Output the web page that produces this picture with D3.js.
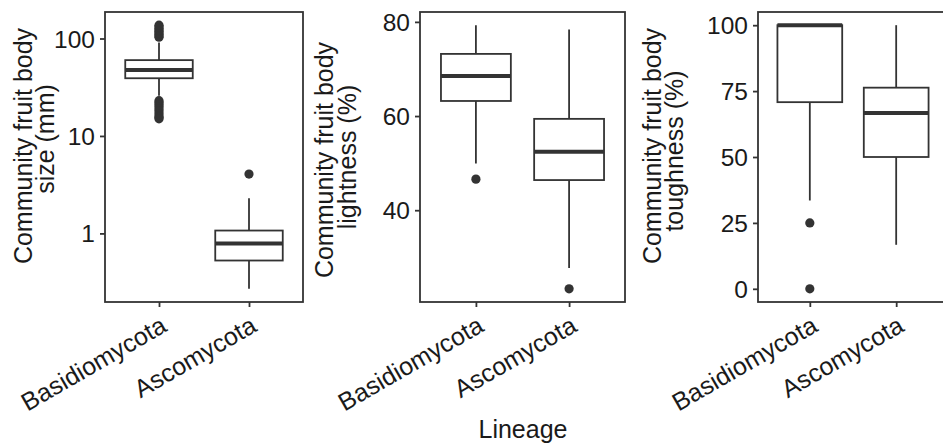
<!DOCTYPE html>
<html><head><meta charset="utf-8">
<script src="https://cdn.jsdelivr.net/npm/d3@7"></script>
<style>body{margin:0;background:#fff}svg{display:block}</style>
</head><body><svg id="chart" width="943" height="445"></svg>
<script>
// ---- data ----
const categories = ["Basidiomycota", "Ascomycota"];

// Panel 1: fruit body size (mm), log scale
const sizeLower = [25.8, 0.27];
const sizeQ1 = [39.1, 0.527];
const sizeMedian = [47.4, 0.79];
const sizeQ3 = [60, 1.07];
const sizeUpper = [91, 2.3];
const sizeOutliers = [[103, 106, 110, 114, 118, 122, 127, 132, 137, 23, 22, 21, 20, 19, 18, 17, 16, 15.5, 15], [4.06]];
const sizeTicks = [1, 10, 100];

// Panel 2: lightness (%)
const lightLower = [49.9, 27.7];
const lightQ1 = [63.2, 46.4];
const lightMedian = [68.5, 52.4];
const lightQ3 = [73.2, 59.4];
const lightUpper = [79.3, 78.4];
const lightOutliers = [[46.6], [23.3]];
const lightTicks = [40, 60, 80];

// Panel 3: toughness (%)
const toughLower = [33.5, 16.7];
const toughQ1 = [70.8, 50];
const toughMedian = [100, 66.7];
const toughQ3 = [100, 76.3];
const toughUpper = [100, 100];
const toughOutliers = [[25, 0], []];
const toughTicks = [0, 25, 50, 75, 100];

const yTitles = [
  ["Community fruit body", "size (mm)"],
  ["Community fruit body", "lightness (%)"],
  ["Community fruit body", "toughness (%)"]
];
const xTitle = "Lineage";

// ---- layout ----
const FONT = "'Liberation Sans', Arial, Helvetica, sans-serif";
const INK = "#333333";
const TXT = "#1a1a1a";
const pTop = 12, pBottom = 302;

const panels = [
  {left: 105, right: 303, log: true, lower: sizeLower, q1: sizeQ1, med: sizeMedian, q3: sizeQ3, upper: sizeUpper, out: sizeOutliers, ticks: sizeTicks,
   title: yTitles[0], tx: [32, 54], ty: [146, 139]},
  {left: 420, right: 625, log: false, lower: lightLower, q1: lightQ1, med: lightMedian, q3: lightQ3, upper: lightUpper, out: lightOutliers, ticks: lightTicks,
   title: yTitles[1], tx: [333, 356], ty: [160, 157]},
  {left: 758, right: 948, log: false, lower: toughLower, q1: toughQ1, med: toughMedian, q3: toughQ3, upper: toughUpper, out: toughOutliers, ticks: toughTicks,
   title: yTitles[2], tx: [661, 683], ty: [146, 151]}
];

const svg = d3.select("#chart");
svg.append("rect").attr("width", 943).attr("height", 445).attr("fill", "#fff");

panels.forEach(p => {
  const all = [].concat(p.lower, p.upper, p.out.flat());
  let y;
  if (p.log) {
    const lmin = Math.log10(d3.min(all)), lmax = Math.log10(d3.max(all));
    const e = (lmax - lmin) * 0.05;
    y = d3.scaleLog().domain([Math.pow(10, lmin - e), Math.pow(10, lmax + e)]).range([pBottom, pTop]);
  } else {
    const mn = d3.min(all), mx = d3.max(all), e = (mx - mn) * 0.05;
    y = d3.scaleLinear().domain([mn - e, mx + e]).range([pBottom, pTop]);
  }
  const x = d3.scalePoint().domain(categories).range([p.left, p.right]).padding(0.6);
  const bw = x.step() * 0.75;

  const g = svg.append("g");
  categories.forEach((c, i) => {
    const cx = x(c);
    // whiskers
    g.append("line").attr("x1", cx).attr("x2", cx).attr("y1", y(p.upper[i])).attr("y2", y(p.q3[i]))
      .attr("stroke", INK).attr("stroke-width", 1.8);
    g.append("line").attr("x1", cx).attr("x2", cx).attr("y1", y(p.q1[i])).attr("y2", y(p.lower[i]))
      .attr("stroke", INK).attr("stroke-width", 1.8);
    // box
    g.append("rect").attr("x", cx - bw / 2).attr("width", bw)
      .attr("y", y(p.q3[i])).attr("height", y(p.q1[i]) - y(p.q3[i]))
      .attr("fill", "#fff").attr("stroke", INK).attr("stroke-width", 1.8);
    // median
    g.append("line").attr("x1", cx - bw / 2).attr("x2", cx + bw / 2)
      .attr("y1", y(p.med[i])).attr("y2", y(p.med[i]))
      .attr("stroke", INK).attr("stroke-width", 4);
    // outliers
    g.selectAll(null).data(p.out[i]).enter().append("circle")
      .attr("cx", cx).attr("cy", d => y(d)).attr("r", 4.6).attr("fill", INK);
  });

  // panel border
  svg.append("rect").attr("x", p.left).attr("y", pTop)
    .attr("width", p.right - p.left).attr("height", pBottom - pTop)
    .attr("fill", "none").attr("stroke", INK).attr("stroke-width", 1.8);

  // y axis
  const ya = svg.append("g").attr("transform", `translate(${p.left},0)`)
    .call(d3.axisLeft(y).tickValues(p.ticks).tickFormat(d => String(d)).tickSize(5).tickPadding(5));
  ya.select(".domain").remove();
  ya.selectAll("line").attr("stroke", INK).attr("stroke-width", 1.8);
  ya.selectAll("text").attr("font-family", FONT).attr("font-size", 24.5).attr("fill", TXT).attr("dy", "0.35em");

  // x axis
  const xa = svg.append("g").attr("transform", `translate(0,${pBottom})`)
    .call(d3.axisBottom(x).tickSize(5));
  xa.select(".domain").remove();
  xa.selectAll("line").attr("stroke", INK).attr("stroke-width", 1.8);
  xa.selectAll("text").attr("font-family", FONT).attr("font-size", 25).attr("fill", TXT)
    .attr("text-anchor", "end").attr("y", 0).attr("dy", "0.71em")
    .attr("transform", "translate(0,13) rotate(-30)");

  // y title (two lines)
  p.title.forEach((t, k) => {
    svg.append("text").attr("transform", `translate(${p.tx[k]},${p.ty[k]}) rotate(-90)`)
      .attr("text-anchor", "middle").attr("font-family", FONT).attr("font-size", 25)
      .attr("fill", TXT).text(t);
  });
});

svg.append("text").attr("x", 523).attr("y", 438).attr("text-anchor", "middle")
  .attr("font-family", FONT).attr("font-size", 25).attr("fill", TXT).text(xTitle);
</script>
</body></html>
